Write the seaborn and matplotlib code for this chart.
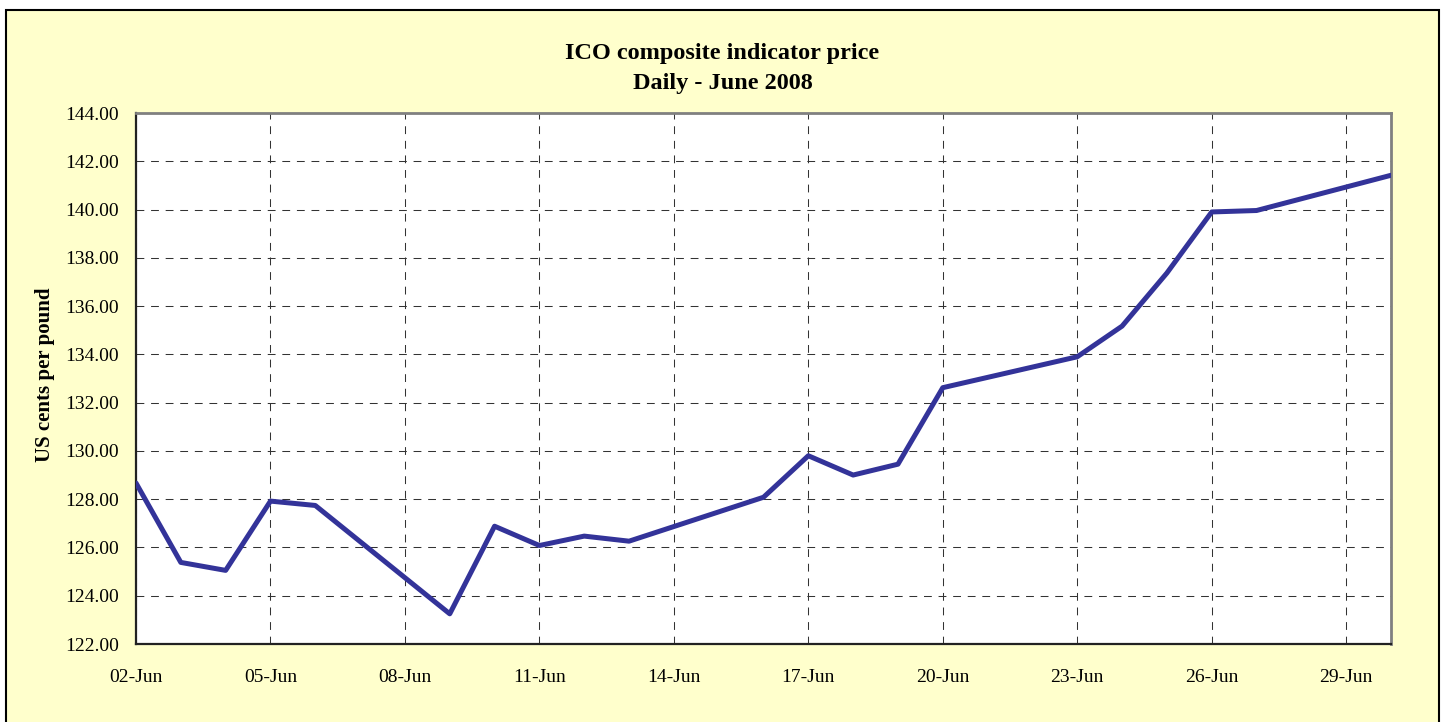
import matplotlib
matplotlib.use("Agg")
import matplotlib.pyplot as plt
import matplotlib.dates as mdates
from matplotlib.patches import Rectangle
import seaborn as sns
import pandas as pd

# ---- data ----
dates = ["2008-06-02", "2008-06-03", "2008-06-04", "2008-06-05", "2008-06-06",
         "2008-06-09", "2008-06-10", "2008-06-11", "2008-06-12", "2008-06-13",
         "2008-06-16", "2008-06-17", "2008-06-18", "2008-06-19", "2008-06-20",
         "2008-06-23", "2008-06-24", "2008-06-25", "2008-06-26", "2008-06-27",
         "2008-06-30"]
prices = [128.67, 125.38, 125.05, 127.92, 127.74,
          123.25, 126.88, 126.08, 126.47, 126.26,
          128.08, 129.80, 129.00, 129.45, 132.62,
          133.90, 135.17, 137.37, 139.90, 139.96,
          141.42]
title_lines = ["ICO composite indicator price", "Daily - June 2008"]
y_label = "US cents per pound"
y_ticks = [122, 124, 126, 128, 130, 132, 134, 136, 138, 140, 142, 144]

df = pd.DataFrame({"date": pd.to_datetime(dates), "price": prices})

sns.set_theme(style="white")
plt.rcParams["font.family"] = ["Liberation Serif", "DejaVu Serif"]
plt.rcParams["text.color"] = "black"

W, H = 1445, 722
fig = plt.figure(figsize=(W / 100, H / 100), dpi=100)
fig.patch.set_facecolor("white")

# outer yellow panel
fig.patches.append(Rectangle((6 / W, -0.05), (1439 - 6) / W, (H - 10) / H + 0.05,
                             transform=fig.transFigure, facecolor="#FFFFCC",
                             edgecolor="black", linewidth=1.5, zorder=-5))

ax = fig.add_axes([136 / W, (H - 644) / H, (1391 - 136) / W, (644 - 113) / H])
ax.set_zorder(2)
ax.set_facecolor("white")

sns.lineplot(data=df, x="date", y="price", ax=ax, color="#333399",
             linewidth=3.6, zorder=3)

ax.set_xlim(pd.Timestamp("2008-06-02"), pd.Timestamp("2008-06-30"))
ax.set_ylim(122, 144)
ax.set_yticks(y_ticks)
ax.set_yticklabels([f"{v:.2f}" for v in y_ticks])
ax.xaxis.set_major_locator(mdates.DayLocator(bymonthday=[2, 5, 8, 11, 14, 17, 20, 23, 26, 29]))
ax.xaxis.set_major_formatter(mdates.DateFormatter("%d-%b"))

ax.grid(True, color="#333333", linestyle=(0, (7.5, 6.5)), linewidth=0.75)
ax.tick_params(axis="both", length=0, labelsize=14, colors="black")
ax.tick_params(axis="x", pad=18)
ax.tick_params(axis="y", pad=12)

ax.set_xlabel("")
ax.set_ylabel("")

for side in ["left", "bottom"]:
    ax.spines[side].set_color("#222222")
    ax.spines[side].set_linewidth(1.6)
for side in ["top", "right"]:
    ax.spines[side].set_color("#808080")
    ax.spines[side].set_linewidth(2.0)

fig.text(0.5, (H - 54) / H, title_lines[0], ha="center", va="center",
         fontsize=17.5, fontweight="bold", color="black")
fig.text(0.5, (H - 84) / H, title_lines[1], ha="center", va="center",
         fontsize=17.5, fontweight="bold", color="black")
fig.text(45 / W, (H - 375) / H, y_label, ha="center", va="center",
         rotation=90, fontsize=15, fontweight="bold", color="black")

fig.savefig("out.png", dpi=100, facecolor=fig.get_facecolor())
